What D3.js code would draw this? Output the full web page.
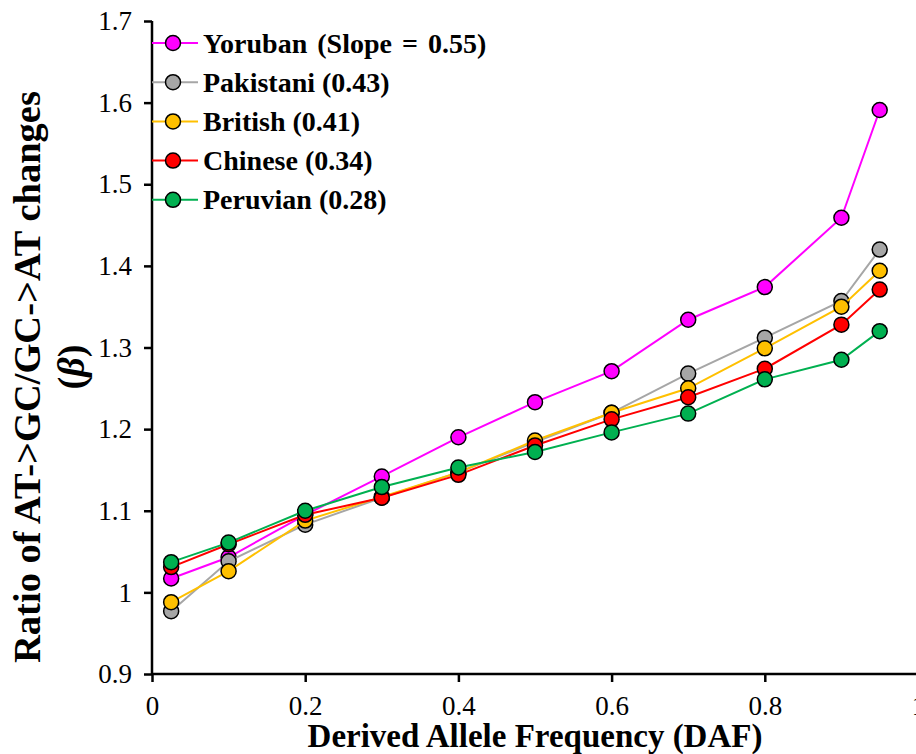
<!DOCTYPE html>
<html>
<head>
    <meta charset="utf-8">
    <script src="https://d3js.org/d3.v7.min.js"></script>
    <title>AT->GC/GC->AT ratio by DAF</title>
    <style>
        body { margin: 0; background: #fff; }
        svg { display: block; font-family: "Liberation Serif", "Times New Roman", serif; }
    </style>
</head>
<body>
<svg id="chart"></svg>
<script>
// derived allele frequency bins
var daf = [0.025, 0.1, 0.2, 0.3, 0.4, 0.5, 0.6, 0.7, 0.8, 0.9, 0.95];

var yoruban   = [1.017, 1.043, 1.095, 1.142, 1.190, 1.233, 1.271, 1.334, 1.374, 1.459, 1.591];
var pakistani = [0.977, 1.038, 1.083, 1.116, 1.147, 1.184, 1.220, 1.268, 1.312, 1.357, 1.420];
var british   = [0.988, 1.026, 1.088, 1.117, 1.147, 1.186, 1.220, 1.250, 1.299, 1.350, 1.394];
var chinese   = [1.031, 1.059, 1.095, 1.116, 1.144, 1.180, 1.212, 1.239, 1.274, 1.328, 1.371];
var peruvian  = [1.037, 1.061, 1.100, 1.129, 1.153, 1.172, 1.196, 1.219, 1.261, 1.285, 1.320];

var seriesNames  = ["Yoruban (Slope = 0.55)", "Pakistani (0.43)", "British (0.41)", "Chinese (0.34)", "Peruvian (0.28)"];
var seriesColors = ["#ff00ff", "#a6a6a6", "#ffc000", "#ff0000", "#00b050"];

var xTicks = [0, 0.2, 0.4, 0.6, 0.8, 1];
var yTicks = [0.9, 1, 1.1, 1.2, 1.3, 1.4, 1.5, 1.6, 1.7];

(function () {
    var width = 916,
        height = 754;

    var svg = d3.select("#chart")
        .attr("width", width)
        .attr("height", height);

    var x = d3.scaleLinear().domain([0, 1]).range([152, 918]);
    var y = d3.scaleLinear().domain([0.9, 1.7]).range([674, 21]);

    var series = [yoruban, pakistani, british, chinese, peruvian].map(function (vals, i) {
        return {
            name: seriesNames[i],
            color: seriesColors[i],
            points: vals.map(function (v, j) { return { x: daf[j], y: v }; })
        };
    });

    // axes
    var fmt = function (d) { return d3.format("")(+d.toFixed(1)); };
    var xAxis = svg.append("g")
        .attr("transform", "translate(0," + y(0.9) + ")")
        .call(d3.axisBottom(x).tickValues(xTicks).tickSize(8).tickPadding(14).tickFormat(fmt));
    var yAxis = svg.append("g")
        .attr("transform", "translate(" + x(0) + ",0)")
        .call(d3.axisLeft(y).tickValues(yTicks).tickSize(8).tickPadding(12).tickFormat(fmt));

    [xAxis, yAxis].forEach(function (g) {
        g.select(".domain").attr("stroke", "#000").attr("stroke-width", 2.5);
        g.selectAll(".tick line").attr("stroke", "#000").attr("stroke-width", 2.5);
        g.selectAll(".tick text")
            .attr("fill", "#000")
            .style("font-family", "Liberation Serif")
            .style("font-size", "27px");
    });
    // plain axis lines, no end caps
    xAxis.select(".domain").attr("d", "M" + x(0) + ",0H" + x(1));
    yAxis.select(".domain").attr("d", "M0," + y(0.9) + "V" + y(1.7));

    // series lines and markers
    var line = d3.line()
        .x(function (d) { return x(d.x); })
        .y(function (d) { return y(d.y); });

    series.forEach(function (s) {
        var g = svg.append("g");
        g.append("path")
            .datum(s.points)
            .attr("fill", "none")
            .attr("stroke", s.color)
            .attr("stroke-width", 2)
            .attr("d", line);
        g.selectAll("circle")
            .data(s.points)
            .enter()
            .append("circle")
            .attr("cx", function (d) { return x(d.x); })
            .attr("cy", function (d) { return y(d.y); })
            .attr("r", 7.5)
            .attr("fill", s.color)
            .attr("stroke", "#000")
            .attr("stroke-width", 1.5);
    });

    // legend
    var legend = svg.append("g");
    series.forEach(function (s, i) {
        var ly = 43 + i * 39.2;
        legend.append("line")
            .attr("x1", 152).attr("x2", 198)
            .attr("y1", ly).attr("y2", ly)
            .attr("stroke", s.color)
            .attr("stroke-width", 2);
        legend.append("circle")
            .attr("cx", 173).attr("cy", ly).attr("r", 7.5)
            .attr("fill", s.color)
            .attr("stroke", "#000")
            .attr("stroke-width", 1.5);
        legend.append("text")
            .attr("x", 203).attr("y", ly + 9.5)
            .attr("font-size", "28px")
            .attr("font-weight", "bold")
            .attr("word-spacing", i === 0 ? "3px" : "0px")
            .text(s.name);
    });

    // axis titles
    svg.append("text")
        .attr("x", 535).attr("y", 747)
        .attr("text-anchor", "middle")
        .attr("font-size", "33px")
        .attr("font-weight", "bold")
        .text("Derived Allele Frequency (DAF)");

    var yTitle = svg.append("g")
        .attr("transform", "translate(40,377) rotate(-90)");
    yTitle.append("text")
        .attr("text-anchor", "middle")
        .attr("font-size", "38.5px")
        .attr("font-weight", "bold")
        .text("Ratio of AT->GC/GC->AT changes");
    var beta = yTitle.append("text")
        .attr("x", 10).attr("y", 44)
        .attr("text-anchor", "middle")
        .attr("font-size", "38px")
        .attr("font-weight", "bold");
    beta.append("tspan").text("(");
    beta.append("tspan").attr("font-style", "italic").text("β");
    beta.append("tspan").text(")");
})();
</script>
</body>
</html>
